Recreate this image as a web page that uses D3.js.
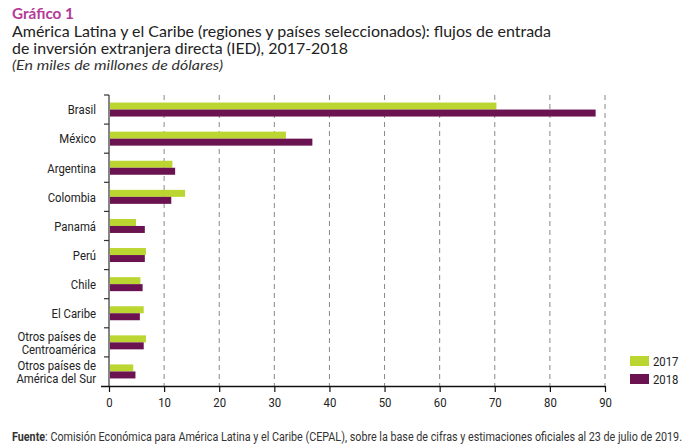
<!DOCTYPE html>
<html>
<head>
<meta charset="utf-8">
<script src="https://cdn.jsdelivr.net/npm/d3@7"></script>
<style>
  body { margin: 0; background: #fff; }
</style>
</head>
<body>
<div id="chart"></div>
<script>
// Chart data
const categories = ["Brasil", "México", "Argentina", "Colombia", "Panamá", "Perú", "Chile", "El Caribe",
  "Otros países de\nCentroamérica", "Otros países de\nAmérica del Sur"];
const years = ["2017", "2018"];
const values2017 = [70.3, 32.1, 11.5, 13.8, 4.9, 6.7, 5.7, 6.3, 6.7, 4.4];
const values2018 = [88.3, 36.9, 12.0, 11.3, 6.5, 6.5, 6.1, 5.6, 6.3, 4.8];
const xTicks = [0, 10, 20, 30, 40, 50, 60, 70, 80, 90];

const width = 696, height = 447;
const colors = { "2017": "#bcd631", "2018": "#6b1350" };
const condFont = "Roboto, 'Liberation Sans', sans-serif";
const squeeze = 0.84; // narrow the font like the original condensed face
const titleFont = "Lato, 'Open Sans', sans-serif";

const svg = d3.select("#chart").append("svg")
  .attr("width", width)
  .attr("height", height);

// Titles
svg.append("text").attr("x", 12).attr("y", 19)
  .attr("font-family", titleFont).attr("font-weight", "bold")
  .attr("font-size", 15).attr("fill", "#b53a98")
  .attr("textLength", 62).attr("lengthAdjust", "spacingAndGlyphs")
  .text("Gráfico 1");
svg.append("text").attr("x", 12).attr("y", 37)
  .attr("font-family", titleFont).attr("font-size", 16).attr("fill", "#222")
  .attr("textLength", 539).attr("lengthAdjust", "spacingAndGlyphs")
  .text("América Latina y el Caribe (regiones y países seleccionados): flujos de entrada");
svg.append("text").attr("x", 12).attr("y", 54)
  .attr("font-family", titleFont).attr("font-size", 16).attr("fill", "#222")
  .attr("textLength", 336).attr("lengthAdjust", "spacingAndGlyphs")
  .text("de inversión extranjera directa (IED), 2017-2018");
svg.append("text").attr("x", 12).attr("y", 70)
  .attr("font-family", titleFont).attr("font-style", "italic")
  .attr("font-size", 14).attr("fill", "#333")
  .attr("textLength", 211).attr("lengthAdjust", "spacingAndGlyphs")
  .text("(En miles de millones de dólares)");

// Scales
const x = d3.scaleLinear().domain([0, 90]).range([109, 605]);
const y = d3.scaleBand().domain(categories).range([95, 386]);
const inner = d3.scaleBand().domain(years).range([0, 14]);
const barOffset = (y.bandwidth() - 14) / 2;

// Gridlines
svg.append("g").selectAll("line")
  .data(xTicks.slice(1))
  .join("line")
  .attr("x1", d => x(d)).attr("x2", d => x(d))
  .attr("y1", 95).attr("y2", 386)
  .attr("stroke", "#888").attr("stroke-width", 1)
  .attr("stroke-dasharray", "5,4");

// Bars
const rows = categories.map((c, i) => ({ cat: c, v: { "2017": values2017[i], "2018": values2018[i] } }));
const groups = svg.append("g").selectAll("g")
  .data(rows)
  .join("g")
  .attr("transform", d => `translate(0,${y(d.cat) + barOffset})`);
groups.selectAll("rect")
  .data(d => years.map(k => ({ year: k, value: d.v[k] })))
  .join("rect")
  .attr("x", x(0) + 1)
  .attr("y", d => inner(d.year))
  .attr("width", d => x(d.value) - x(0) - 1)
  .attr("height", inner.bandwidth())
  .attr("fill", d => colors[d.year]);

// Y axis (ticks at category boundaries)
const yAxisG = svg.append("g");
yAxisG.append("line")
  .attr("x1", x(0)).attr("x2", x(0)).attr("y1", 95).attr("y2", 386)
  .attr("stroke", "#333").attr("stroke-width", 1.2);
yAxisG.selectAll("line.tick")
  .data(categories)
  .join("line")
  .attr("class", "tick")
  .attr("x1", x(0) - 5).attr("x2", x(0))
  .attr("y1", d => y(d)).attr("y2", d => y(d))
  .attr("stroke", "#333").attr("stroke-width", 1.2);
yAxisG.selectAll("text")
  .data(categories)
  .join("text")
  .attr("text-anchor", "end")
  .attr("font-family", condFont)
  .attr("font-size", 13.5)
  .attr("fill", "#222")
  .attr("transform", d => `translate(96,${y(d) + y.bandwidth() / 2}) scale(${squeeze},1)`)
  .each(function(d) {
    const lines = d.split("\n");
    const t = d3.select(this);
    lines.forEach((ln, j) => {
      t.append("tspan")
        .attr("x", 0)
        .attr("y", 4.8 + (j - (lines.length - 1) / 2) * 13)
        .text(ln);
    });
  });

// X axis
const xAxis = d3.axisBottom(x).tickValues(xTicks).tickSize(6).tickSizeOuter(0);
const xg = svg.append("g")
  .attr("transform", "translate(0,386)")
  .call(xAxis);
xg.select(".domain").attr("stroke", "#111").attr("stroke-width", 1.3)
  .attr("d", `M101,0.5H${x(90)}`);
xg.selectAll(".tick line").attr("stroke", "#111").attr("stroke-width", 1.2);
xg.selectAll(".tick text")
  .attr("font-family", condFont)
  .attr("font-size", 13.5)
  .attr("fill", "#222")
  .attr("y", 10)
  .attr("dy", "0.85em")
  .attr("transform", `scale(${squeeze},1)`);

// Legend
const legend = svg.append("g").attr("transform", "translate(630,356)");
years.forEach((k, i) => {
  legend.append("rect").attr("x", 0).attr("y", i * 18).attr("width", 19).attr("height", 10)
    .attr("fill", colors[k]);
  legend.append("text")
    .attr("transform", `translate(23,${i * 18 + 10}) scale(${squeeze},1)`)
    .attr("font-family", condFont).attr("font-size", 13.5).attr("fill", "#222").text(k);
});

// Source
const src = svg.append("text").attr("x", 12).attr("y", 441)
  .attr("font-family", condFont).attr("font-size", 12).attr("fill", "#333")
  .attr("textLength", 670).attr("lengthAdjust", "spacingAndGlyphs");
src.append("tspan").attr("font-weight", "bold").text("Fuente");
src.append("tspan").text(":  Comisión Económica para América Latina y el Caribe (CEPAL), sobre la base de cifras y estimaciones oficiales al 23 de julio de 2019.");
</script>
</body>
</html>
